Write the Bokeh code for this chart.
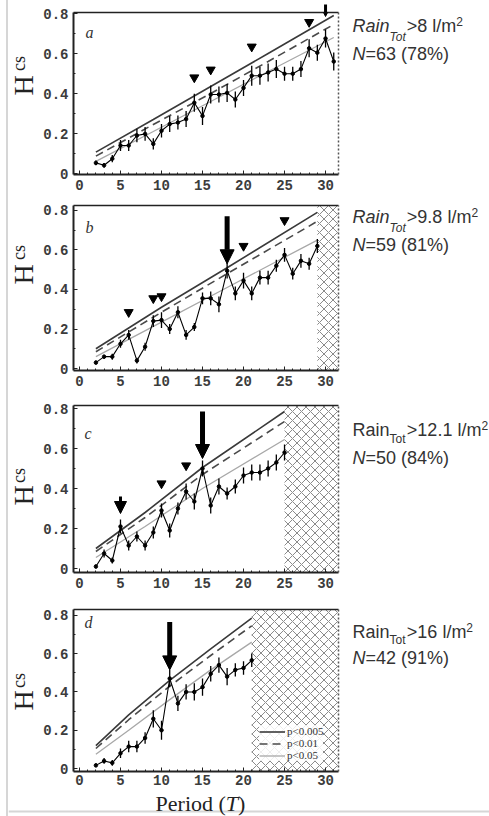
import math
from bokeh.plotting import figure
from bokeh.layouts import column, row
from bokeh.models import Range1d, FixedTicker, LinearAxis, Label, Arrow, NormalHead, Span
from bokeh.embed import file_html
from bokeh.resources import INLINE

# ---------------- data ----------------
periods_a = list(range(2, 32))
hcs_a = [0.053, 0.041, 0.074, 0.14, 0.14, 0.19, 0.198, 0.148, 0.214, 0.247, 0.255, 0.272, 0.354,
         0.288, 0.395, 0.395, 0.403, 0.37, 0.428, 0.489, 0.489, 0.505, 0.522, 0.499, 0.499, 0.522,
         0.626, 0.604, 0.675, 0.56]
err_a = [0.012, 0.012, 0.018, 0.028, 0.028, 0.034, 0.034, 0.028, 0.034, 0.04, 0.035, 0.04, 0.045,
         0.045, 0.045, 0.04, 0.045, 0.04, 0.04, 0.05, 0.045, 0.045, 0.045, 0.035, 0.035, 0.04,
         0.045, 0.04, 0.045, 0.045]

periods_b = list(range(2, 30))
hcs_b = [0.03, 0.06, 0.06, 0.125, 0.17, 0.04, 0.11, 0.24, 0.245, 0.2, 0.285, 0.17, 0.21, 0.355,
         0.355, 0.325, 0.495, 0.38, 0.445, 0.38, 0.46, 0.46, 0.52, 0.575, 0.48, 0.545, 0.53, 0.62]
err_b = [0.01, 0.01, 0.015, 0.02, 0.025, 0.015, 0.02, 0.03, 0.04, 0.025, 0.03, 0.025, 0.02, 0.03,
         0.035, 0.04, 0.04, 0.035, 0.04, 0.035, 0.035, 0.035, 0.03, 0.035, 0.03, 0.035, 0.03, 0.035]

periods_c = list(range(2, 26))
hcs_c = [0.01, 0.075, 0.04, 0.21, 0.115, 0.16, 0.115, 0.18, 0.29, 0.19, 0.3, 0.385, 0.335, 0.5,
         0.315, 0.41, 0.375, 0.41, 0.465, 0.48, 0.48, 0.5, 0.53, 0.58]
err_c = [0.01, 0.02, 0.015, 0.035, 0.025, 0.025, 0.025, 0.03, 0.035, 0.035, 0.03, 0.04, 0.04, 0.04,
         0.04, 0.04, 0.03, 0.035, 0.04, 0.04, 0.04, 0.04, 0.04, 0.04]

periods_d = list(range(2, 22))
hcs_d = [0.017, 0.04, 0.03, 0.08, 0.115, 0.115, 0.16, 0.26, 0.2, 0.47, 0.34, 0.4, 0.4, 0.425,
         0.495, 0.54, 0.48, 0.515, 0.525, 0.565]
err_d = [0.01, 0.015, 0.015, 0.025, 0.03, 0.03, 0.03, 0.045, 0.05, 0.045, 0.04, 0.04, 0.045, 0.045,
         0.04, 0.04, 0.045, 0.035, 0.035, 0.035]

# significance thresholds (read at a few periods)
thr_x_a = [2, 9, 16, 23, 31]
p005_a = [0.107, 0.27, 0.435, 0.60, 0.79]
p01_a = [0.087, 0.245, 0.40, 0.56, 0.745]
p05_a = [0.061, 0.21, 0.36, 0.51, 0.68]

thr_x_b = [2, 10, 18, 29]
p005_b = [0.10, 0.31, 0.51, 0.79]
p01_b = [0.085, 0.285, 0.48, 0.745]
p05_b = [0.06, 0.235, 0.41, 0.65]

thr_x_c = [2, 8, 15, 25]
p005_c = [0.10, 0.28, 0.505, 0.785]
p01_c = [0.085, 0.255, 0.47, 0.735]
p05_c = [0.055, 0.21, 0.40, 0.645]

thr_x_d = [2, 6, 11, 16, 21]
p005_d = [0.12, 0.28, 0.46, 0.625, 0.785]
p01_d = [0.105, 0.255, 0.43, 0.59, 0.745]
p05_d = [0.075, 0.20, 0.36, 0.515, 0.66]

# small significance marks (triangles)
tri_x_a = [14, 16, 21, 28]
tri_y_a = [0.48, 0.519, 0.634, 0.757]
tri_x_b = [6, 9, 10, 20, 25]
tri_y_b = [0.285, 0.355, 0.365, 0.62, 0.75]
tri_x_c = [10, 13]
tri_y_c = [0.425, 0.515]
tri_x_d = []
tri_y_d = []

# big arrows: period, top, tip
arr_x_a = [30]
arr_top_a = [0.86]
arr_tip_a = [0.785]
arr_x_b = [18]
arr_top_b = [0.77]
arr_tip_b = [0.53]
arr_x_c = [5, 15]
arr_top_c = [0.36, 0.785]
arr_tip_c = [0.275, 0.55]
arr_x_d = [11]
arr_top_d = [0.765]
arr_tip_d = [0.515]

panel_letters = ["a", "b", "c", "d"]
rain_limits = ["8", "9.8", "12.1", "16"]
n_events = ["63", "59", "50", "42"]
n_percent = ["78", "81", "84", "91"]

x_ticks = [0, 5, 10, 15, 20, 25, 30]
x_tick_labels = ["0", "5", "10", "15", "20", "25", "30"]
y_ticks = [0, 0.2, 0.4, 0.6, 0.8]
y_tick_labels = ["0", "0.2", "0.4", "0.6", "0.8"]
legend_labels = ["p<0.005", "p<0.01", "p<0.05"]

PANELS = [
    (periods_a, hcs_a, err_a, thr_x_a, p005_a, p01_a, p05_a, tri_x_a, tri_y_a, arr_x_a, arr_top_a, arr_tip_a),
    (periods_b, hcs_b, err_b, thr_x_b, p005_b, p01_b, p05_b, tri_x_b, tri_y_b, arr_x_b, arr_top_b, arr_tip_b),
    (periods_c, hcs_c, err_c, thr_x_c, p005_c, p01_c, p05_c, tri_x_c, tri_y_c, arr_x_c, arr_top_c, arr_tip_c),
    (periods_d, hcs_d, err_d, thr_x_d, p005_d, p01_d, p05_d, tri_x_d, tri_y_d, arr_x_d, arr_top_d, arr_tip_d),
]

# ---------------- layout / style (page pixels) ----------------
PAGE_X0 = 8           # left edge of the content (after page border)
LEFT_W = 32           # column holding the rotated H_cs label
PLOT_X0 = PAGE_X0 + LEFT_W
PLOT_W = 302
RIGHT_X0 = PLOT_X0 + PLOT_W
RIGHT_W = 489 - RIGHT_X0
FRAME_L, FRAME_R = 73, 338
X0, X1 = -0.73, 31.58
MID = 0.33            # text middle sits this many font sizes above the baseline

GEOM = [
    dict(fig_top=0, frame_top=12, frame_bottom=174, fig_bottom=196, y0=-0.005, y1=0.805,
         rain_base=31, sub_base=40, sup_base=25, n_base=59, italic_rain=True, xstand=5,
         h_c=(22.5, 85), cs_c=(18, 63), letter=(85, 37)),
    dict(fig_top=196, frame_top=205, frame_bottom=370, fig_bottom=393, y0=-0.01, y1=0.825,
         rain_base=222, sub_base=231, sup_base=216, n_base=250, italic_rain=True, xstand=5,
         h_c=(22.5, 274), cs_c=(18, 252), letter=(85, 232)),
    dict(fig_top=393, frame_top=405, frame_bottom=572, fig_bottom=594, y0=-0.02, y1=0.815,
         rain_base=435, sub_base=442, sup_base=429, n_base=463, italic_rain=False, xstand=5,
         h_c=(22.5, 495), cs_c=(18, 475), letter=(84, 438)),
    dict(fig_top=594, frame_top=609, frame_bottom=771, fig_bottom=790, y0=-0.015, y1=0.83,
         rain_base=637, sub_base=643, sup_base=631, n_base=663, italic_rain=False, xstand=3,
         h_c=(22.5, 700), cs_c=(18, 680), letter=(84, 627)),
]
BOTTOM_TOP, BOTTOM_H = 790, 26
PERIOD_CENTER, PERIOD_MID = 200, 803
PAGE_LINE_Y = 811

SANS = "Liberation Sans"
SERIF = "Liberation Serif"
MONO = "Liberation Mono"
TXT = "#333333"
BORDER = "#d6d6d6"

ARIAL = {'R': 722, 'a': 556, 'i': 222, 'n': 556, 'T': 611, 'o': 556, 't': 278, '>': 584, ' ': 278,
         'l': 222, '/': 278, 'm': 833, 'N': 722, '=': 584, '(': 333, ')': 333, '%': 889, '.': 278}
TIMES = {'P': 556, 'e': 444, 'r': 333, 'i': 278, 'o': 500, 'd': 500, ' ': 250, '(': 333, ')': 333,
         'T': 556}


def tw(s, size, table):
    return sum(table.get(c, 556) for c in s) * size / 1000.0


def px2x(px):
    return X0 + (px - FRAME_L) / (FRAME_R - FRAME_L) * (X1 - X0)


def py2y(py, g):
    return g["y1"] - (py - g["frame_top"]) / (g["frame_bottom"] - g["frame_top"]) * (g["y1"] - g["y0"])


def side_fig(x0, w, g):
    """Text column beside a panel; its frame is aligned with the panel's frame, and its
    coordinates are page pixels (y grows downwards)."""
    f = figure(width=w, height=g["fig_bottom"] - g["fig_top"],
               x_range=Range1d(x0, x0 + w), y_range=Range1d(g["frame_bottom"], g["frame_top"]),
               title=None, x_axis_type=None, y_axis_type=None, output_backend="svg",
               toolbar_location=None, min_border_left=0, min_border_right=0,
               min_border_top=g["frame_top"] - g["fig_top"],
               min_border_bottom=g["fig_bottom"] - g["frame_bottom"])
    f.outline_line_color = None
    f.background_fill_color = "white"
    f.border_fill_color = "white"
    return f


def add_pieces(f, x_page, pieces, table):
    """pieces: (text, size, style, baseline_page_y, font)"""
    cx = x_page
    for text, size, style, base, font in pieces:
        f.add_layout(Label(x=cx, y=base - MID * size, text=text, text_font=font,
                           text_font_size=f"{size}px", text_font_style=style, text_color=TXT,
                           text_align="left", text_baseline="middle"))
        cx += tw(text, size, table)


rows = []
for k, (xs, ys, es, tx, t1, t2, t3, trx, try_, ax_, atop, atip) in enumerate(PANELS):
    g = GEOM[k]
    H = g["fig_bottom"] - g["fig_top"]
    p = figure(width=PLOT_W, height=H, title=None,
               x_range=Range1d(X0, X1), y_range=Range1d(g["y0"], g["y1"]),
               output_backend="svg", toolbar_location=None,
               min_border_left=FRAME_L - PLOT_X0, min_border_right=PLOT_X0 + PLOT_W - FRAME_R,
               min_border_top=g["frame_top"] - g["fig_top"],
               min_border_bottom=g["fig_bottom"] - g["frame_bottom"])
    p.outline_line_color = None
    p.grid.grid_line_color = None
    p.background_fill_color = "white"
    p.border_fill_color = "white"

    xa = p.xaxis[0]
    ya = p.yaxis[0]
    xa.ticker = FixedTicker(ticks=x_ticks, minor_ticks=list(range(1, 32)))
    ya.ticker = FixedTicker(ticks=y_ticks, minor_ticks=[0.1, 0.3, 0.5, 0.7])
    xa.major_label_overrides = dict(zip(x_ticks, x_tick_labels))
    ya.major_label_overrides = dict(zip(y_ticks, y_tick_labels))
    for a in (xa, ya):
        a.axis_line_width = 2
        a.axis_line_color = "#222222"
        a.major_tick_in = 4
        a.major_tick_out = 0
        a.minor_tick_in = 2
        a.minor_tick_out = 0
        a.major_tick_line_color = "#222222"
        a.minor_tick_line_color = "#222222"
        a.major_label_text_font = MONO
        a.major_label_text_font_style = "bold"
        a.major_label_text_font_size = "14px"
        a.major_label_text_color = "#3c3c3c"
    xa.major_label_standoff = g["xstand"]
    ya.major_label_standoff = 5

    top = LinearAxis(ticker=FixedTicker(ticks=[]), axis_line_width=1.5, axis_line_color="#222222")
    p.add_layout(top, "above")
    right = LinearAxis(ticker=FixedTicker(ticks=[]), axis_line_width=1.5, axis_line_color="#555555",
                       axis_line_dash="2 2")
    p.add_layout(right, "right")

    # hatched region: periods beyond the available data
    last = max(xs)
    if last < x_ticks[-1]:
        p.quad(left=[last], right=[X1], bottom=[g["y0"]], top=[g["y1"]], fill_color="white",
               line_color=None, hatch_pattern="diagonal_cross", hatch_color="#8a8a8a",
               hatch_scale=9, hatch_weight=1)

    # significance curves
    kw1 = dict(line_color="#3a3a3a", line_width=1.6)
    kw2 = dict(line_color="#4a4a4a", line_width=1.6, line_dash="8 5")
    kw3 = dict(line_color="#a8a8a8", line_width=1.3)
    if k == 3:
        p.line(tx, t1, legend_label=legend_labels[0], **kw1)
        p.line(tx, t2, legend_label=legend_labels[1], **kw2)
        p.line(tx, t3, legend_label=legend_labels[2], **kw3)
    else:
        p.line(tx, t1, **kw1)
        p.line(tx, t2, **kw2)
        p.line(tx, t3, **kw3)

    # error bars, series, points
    lo = [y - e for y, e in zip(ys, es)]
    hi = [y + e for y, e in zip(ys, es)]
    p.segment(x0=xs, y0=lo, x1=xs, y1=hi, line_color="black", line_width=1.3)
    p.line(xs, ys, line_color="black", line_width=1.1)
    p.scatter(xs, ys, size=3.5, color="black")
    if trx:
        p.scatter(trx, try_, marker="inverted_triangle", size=9, color="black")

    for xv, yt, yp in zip(ax_, atop, atip):
        span = yt - yp
        if span > 0.12:
            hs, lw = 14, 5
        elif span > 0.05:
            hs, lw = 12, 3
        else:
            hs, lw = 12, 2
        p.add_layout(Arrow(end=NormalHead(size=hs, fill_color="black", line_color="black",
                                          line_width=1),
                           x_start=xv, y_start=yt, x_end=xv, y_end=yp,
                           line_color="black", line_width=lw))

    # panel letter (inside the frame)
    lx, lb = g["letter"]
    p.add_layout(Label(x=px2x(lx), y=py2y(lb - MID * 16, g), text=panel_letters[k],
                       text_font=SERIF, text_font_style="italic", text_font_size="16px",
                       text_color=TXT, text_baseline="middle"))

    if k == 3:
        lg = p.legend[0]
        lg.location = (186, 10)
        lg.glyph_width = 26
        lg.glyph_height = 9
        lg.label_height = 9
        lg.spacing = 0
        lg.padding = 2
        lg.margin = 0
        lg.label_standoff = 2
        lg.label_text_font = SERIF
        lg.label_text_font_size = "11px"
        lg.label_text_color = TXT
        lg.border_line_color = None
        lg.background_fill_color = "white"
        lg.background_fill_alpha = 0.85

    # left column: rotated H_cs
    lf = side_fig(PAGE_X0, LEFT_W, g)
    hx, hy = g["h_c"]
    lf.add_layout(Label(x=hx, y=hy, text="H", text_font=SERIF,
                        text_font_size="28px", text_color="#222222", angle=math.pi / 2,
                        text_align="center", text_baseline="middle"))
    cx, cy = g["cs_c"]
    lf.add_layout(Label(x=cx, y=cy, text="cs", text_font=SERIF,
                        text_font_size="18px", text_color="#222222", angle=math.pi / 2,
                        text_align="center", text_baseline="middle"))

    # right column: rain threshold and number of events
    rf = side_fig(RIGHT_X0, RIGHT_W, g)
    rs = "italic" if g["italic_rain"] else "normal"
    add_pieces(rf, 352, [
        ("Rain", 18, rs, g["rain_base"], SANS),
        ("Tot", 12, rs, g["sub_base"], SANS),
        (">" + rain_limits[k] + " l/m", 18, "normal", g["rain_base"], SANS),
        ("2", 12, "normal", g["sup_base"], SANS),
    ], ARIAL)
    add_pieces(rf, 352, [
        ("N", 18, "italic", g["n_base"], SANS),
        ("=" + n_events[k] + " (" + n_percent[k] + "%)", 18, "normal", g["n_base"], SANS),
    ], ARIAL)

    rows.append(row(lf, p, rf))

# bottom strip: x-axis title "Period (T)" and the page's bottom rule (page pixel coordinates)
BW = 489 - PAGE_X0
bf = figure(width=BW, height=BOTTOM_H, x_range=Range1d(PAGE_X0, 489),
            y_range=Range1d(BOTTOM_TOP + BOTTOM_H, BOTTOM_TOP), title=None,
            x_axis_type=None, y_axis_type=None, output_backend="svg", toolbar_location=None,
            min_border_left=0, min_border_right=0, min_border_top=0, min_border_bottom=0)
bf.outline_line_color = None
bf.background_fill_color = "white"
bf.border_fill_color = "white"
bf.add_layout(Span(location=PAGE_LINE_Y, dimension="width", line_color=BORDER, line_width=2))
size = 22
parts = [("Period (", "normal"), ("T", "italic"), (")", "normal")]
total = sum(tw(s, size, TIMES) for s, _ in parts)
cx0 = PERIOD_CENTER - total / 2
for s, st in parts:
    bf.add_layout(Label(x=cx0, y=PERIOD_MID, text=s, text_font=SERIF, text_font_size=f"{size}px",
                        text_font_style=st, text_color="#222222", text_align="left",
                        text_baseline="middle"))
    cx0 += tw(s, size, TIMES)

layout = column(*rows, bf, styles={"margin-left": "6px", "border-left": f"2px solid {BORDER}"})

open("out.html", "w").write(file_html(layout, INLINE))
